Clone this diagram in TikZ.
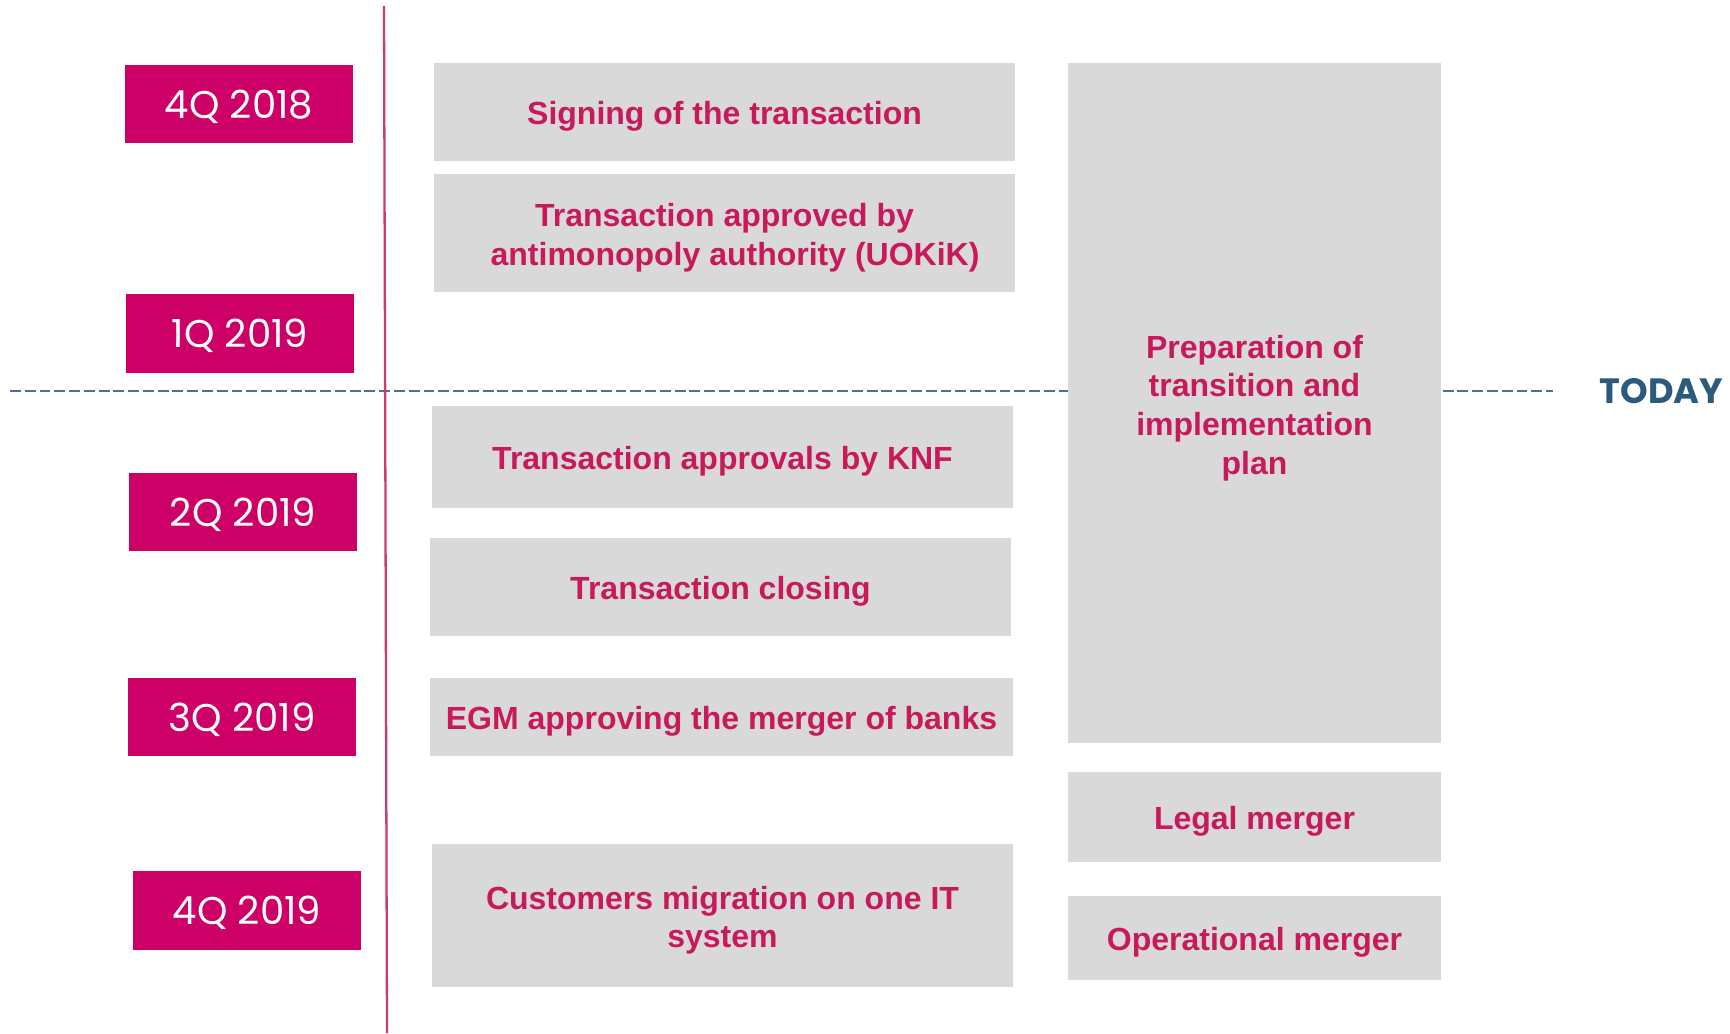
\documentclass[tikz,border=0pt]{standalone}
\usepackage{fontspec}
\setmainfont{Liberation Sans}
\newfontfamily\quarterfont{Poppins}
\definecolor{quarterpink}{RGB}{204,0,102}
\definecolor{eventtext}{RGB}{200,25,90}
\definecolor{eventgray}{RGB}{217,217,217}
\definecolor{todayblue}{RGB}{44,90,124}
\definecolor{axispink}{RGB}{200,60,112}
\definecolor{nowblue}{RGB}{78,112,150}
\tikzset{
  quarter/.style = {fill=quarterpink, text=white, inner sep=0pt,
                    minimum width=2.28cm, minimum height=0.78cm, text depth=0pt,
                    font=\quarterfont\fontsize{11}{13}\selectfont},
  event/.style   = {fill=eventgray, text=eventtext, inner sep=0pt,
                    align=center, text height=9pt,
                    font=\bfseries\fontsize{9.1}{11}\selectfont},
  two lines/.style  = {text height=20.3pt},
  four lines/.style = {text height=42.3pt},
  wide/.style    = {event, minimum width=5.81cm},
  tall/.style    = {event, minimum width=3.73cm},
  axis/.style    = {axispink, line width=0.65pt},
  now/.style     = {nowblue, line width=0.6pt, dash pattern=on 3.1pt off 1.1pt}
}
\begin{document}
\begin{tikzpicture}[x=0.01cm, y=-0.01cm]
  \useasboundingbox (0,0) rectangle (1730,1033);

  % timeline axis and the "today" marker
  \coordinate (axtop) at (384,6);
  \coordinate (axbot) at (387,1033);
  \coordinate (nowL) at (10,391);
  \coordinate (nowR) at (1553,391);
  \draw[now] (nowL) -- (nowR);
  \draw[axis] (axtop) -- (axbot);
  \node[anchor=west, text=todayblue, inner sep=0pt,
        font=\quarterfont\bfseries\fontsize{10}{12}\selectfont] (today) at (1599,391) {TODAY};

  % quarters
  \node[quarter] (q418) at (239,104)   {4Q 2018};
  \node[quarter] (q119) at (240,333.5) {1Q 2019};
  \node[quarter] (q219) at (243,512)   {2Q 2019};
  \node[quarter] (q319) at (242,717)   {3Q 2019};
  \node[quarter] (q419) at (247,910.5) {4Q 2019};

  % transaction steps
  \node[wide, minimum height=0.98cm] (sign) at (724.5,112) {Signing of the transaction};
  \node[wide, two lines, minimum height=1.18cm] (uokik) at (724.5,233)
    {Transaction approved by\\\hspace*{6pt}antimonopoly authority (UOKiK)};
  \node[wide, minimum height=1.02cm] (knf) at (722.5,457) {Transaction approvals by KNF};
  \node[wide, minimum height=0.98cm] (closing) at (720.5,587) {Transaction closing};
  \node[wide, minimum height=0.78cm, minimum width=5.83cm] (egm) at (721.5,717)
    {EGM approving the merger of banks};
  \node[wide, two lines, minimum height=1.43cm] (migration) at (722.5,915.5)
    {Customers migration on one IT\\system};

  % integration track
  \node[tall, four lines, minimum height=6.80cm] (prep) at (1254.5,403)
    {Preparation of\\transition and\\implementation\\plan};
  \node[tall, minimum height=0.90cm] (legal) at (1254.5,817) {Legal merger};
  \node[tall, minimum height=0.84cm] (oper) at (1254.5,938) {Operational merger};
\end{tikzpicture}
\end{document}
